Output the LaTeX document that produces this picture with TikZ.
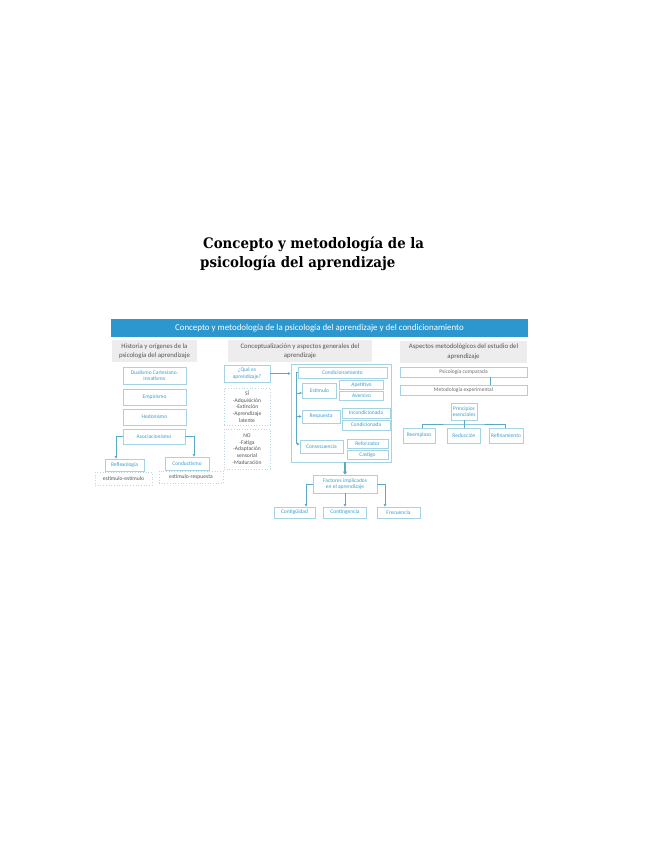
\documentclass[tikz,border=0pt]{standalone}
\usepackage{fontspec}
\setmainfont{Carlito}
\newfontfamily\titlefont[FakeStretch=0.92]{DejaVu Serif}
\usetikzlibrary{arrows.meta}
\definecolor{hdrblue}{HTML}{2C97CF}
\definecolor{graybg}{HTML}{EDEDED}
\definecolor{boxc}{HTML}{A3D3E4}
\definecolor{txtc}{HTML}{3A9FCC}
\definecolor{darktxt}{HTML}{555555}
\definecolor{linec}{HTML}{5AAAC6}
\definecolor{dotc}{HTML}{B9D7E2}
\tikzset{
  bx/.style={draw=boxc, line width=0.8pt, fill=white, text=txtc, font=\fontsize{5.5}{6.2}\selectfont, align=center, inner sep=0pt},
  dbx/.style={draw=dotc, line width=0.7pt, dotted, fill=white, text=darktxt, font=\fontsize{5.6}{6.6}\selectfont, align=center, inner sep=0pt},
  colhdr/.style={fill=graybg, text=darktxt, font=\fontsize{6.8}{9.5}\selectfont, align=center, inner sep=0pt},
  conn/.style={draw=linec, line width=0.7pt},
  arr/.style={conn, -{Triangle[length=2.4pt,width=2.4pt]}},
}
\begin{document}
\begin{tikzpicture}[x=1pt,y=-1pt]
\useasboundingbox[fill=white] (0,0) rectangle (655,848);
% title
\node[anchor=base west, inner sep=0pt, font=\titlefont\bfseries\fontsize{14.5}{17}\selectfont] (t1) at (203,248) {Concepto y metodología de la};
\node[anchor=base west, inner sep=0pt, font=\titlefont\bfseries\fontsize{14.5}{17}\selectfont] (t2) at (200,267) {psicología del aprendizaje};
% main header
\node[fill=hdrblue, text=white, minimum width=417pt, minimum height=18pt, inner sep=0pt, font=\fontsize{8.9}{10}\selectfont] (hdr) at (319.5,328) {Concepto y metodología de la psicología del aprendizaje y del condicionamiento};
% column headers
\node[colhdr, minimum width=85pt, minimum height=22pt] (h1) at (154.5,351) {Historia y orígenes de la\\psicología del aprendizaje};
\node[colhdr, minimum width=144pt, minimum height=22pt] (h2) at (300,351) {Conceptualización y aspectos generales del\\aprendizaje};
\node[colhdr, minimum width=127pt, minimum height=22pt] (h3) at (463.5,351.5) {Aspectos metodológicos del estudio del\\aprendizaje};
% left column
\node[bx, minimum width=63pt, minimum height=17pt] (dual) at (154.5,375.5) {Dualismo Cartesiano.\\Innatismo};
\node[bx, minimum width=63pt, minimum height=16pt] (emp) at (154.5,397) {Empirismo};
\node[bx, minimum width=63pt, minimum height=16pt] (hed) at (154.5,417) {Hedonismo};
\node[bx, minimum width=62pt, minimum height=15pt] (asoc) at (154,436.5) {Asociacionismo};
\node[bx, minimum width=39pt, minimum height=12pt] (refl) at (124.5,465) {Reflexología};
\node[bx, minimum width=44pt, minimum height=13pt] (cond) at (187,463.5) {Conductismo};
\node[dbx, minimum width=57pt, minimum height=13pt] (ee) at (123.5,478.5) {estímulo-estímulo};
\node[dbx, minimum width=64pt, minimum height=12pt] (er) at (191,477) {estímulo-respuesta};
\draw[arr] (asoc.west) -| ([xshift=-8.5pt]refl.north);
\draw[arr] (asoc.east) -| ([xshift=7pt]cond.north);
% middle column
\node[bx, minimum width=46pt, minimum height=17pt] (que) at (247,373.5) {¿Qué es\\aprendizaje?};
\node[dbx, minimum width=46pt, minimum height=37pt] (si) at (247,406.5) {SÍ\\-Adquisición\\-Extinción\\-Aprendizaje\\latente};
\node[dbx, minimum width=46pt, minimum height=40pt] (no) at (247,449) {NO\\-Fatiga\\-Adaptación\\sensorial\\-Maduración};
\node[draw=boxc, line width=0.9pt, minimum width=100pt, minimum height=98pt, inner sep=0pt] (outer) at (341,413) {};
\draw[arr] (que.east) -- (que.east -| outer.west);
\node[bx, minimum width=89pt, minimum height=11pt] (condm) at (342.5,372.5) {Condicionamiento};
\node[bx, minimum width=34pt, minimum height=15pt] (est) at (319.5,390.5) {Estímulo};
\node[bx, minimum width=44pt, minimum height=8.5pt] (ape) at (361.5,385) {Apetitivo};
\node[bx, minimum width=44pt, minimum height=8.5pt] (ave) at (361.5,396) {Aversivo};
\node[bx, minimum width=38pt, minimum height=13pt] (resp) at (321,416.5) {Respuesta};
\node[bx, minimum width=48pt, minimum height=10pt] (incond) at (366,413) {Incondicionada};
\node[bx, minimum width=48pt, minimum height=10pt] (condic) at (366,425) {Condicionada};
\node[bx, minimum width=43pt, minimum height=13pt] (cons) at (321.5,446.5) {Consecuencia};
\node[bx, minimum width=41pt, minimum height=9pt] (ref) at (367.5,443.5) {Reforzador};
\node[bx, minimum width=41pt, minimum height=8.5pt] (cast) at (367.5,455) {Castigo};
\coordinate (vtop) at (296.5,372.5);
\coordinate (vbot) at (296.5,444);
\draw[conn] (condm.west) -- (vtop) -- (vbot);
\draw[arr] (vtop |- 0,393) -- (est.west |- 0,393);
\draw[arr] (vtop |- resp.west) -- (resp.west);
\draw[arr] (vbot) -- (cons.west |- vbot);
\node[bx, minimum width=64pt, minimum height=18pt] (fact) at (345,484) {Factores implicados\\en el aprendizaje};
\draw[draw=linec, line width=1.8pt, -{Triangle[length=3pt,width=4pt]}] (outer.south -| fact.north) -- (fact.north);
\node[bx, minimum width=41pt, minimum height=11pt] (cont) at (294.5,512.5) {Contigüidad};
\node[bx, minimum width=43pt, minimum height=11pt] (cgen) at (345,512.5) {Contingencia};
\node[bx, minimum width=43pt, minimum height=11pt] (frec) at (398.5,512.5) {Frecuencia};
\draw[arr] (fact.west) -| ([xshift=11.5pt]cont.north);
\draw[arr] (fact.south) -- (cgen.north);
\draw[arr] (fact.east) -| ([xshift=-13.5pt]frec.north);
% right column
\node[bx, text=darktxt!85, minimum width=127pt, minimum height=10pt] (pc) at (463.5,372) {Psicología comparada};
\node[bx, text=darktxt!85, minimum width=127pt, minimum height=10pt] (me) at (463.5,390) {Metodología experimental};
\draw[conn] ([xshift=26.5pt]pc.south) -- ([xshift=26.5pt]me.north);
\node[bx, minimum width=26pt, minimum height=17pt] (pe) at (464,411.5) {Principios\\esenciales};
\node[bx, minimum width=32pt, minimum height=15pt] (ree) at (419,435.5) {Reemplazo};
\node[bx, minimum width=33pt, minimum height=15pt] (red) at (464,435.5) {Reducción};
\node[bx, minimum width=34pt, minimum height=15pt] (refi) at (506,435.5) {Refinamiento};
\coordinate (pj) at (464,424);
\draw[conn] (pe.south) -- (red.north);
\draw[conn] ([xshift=3pt]ree.north) |- (pj) -| ([xshift=-1pt]refi.north);
\end{tikzpicture}
\end{document}
